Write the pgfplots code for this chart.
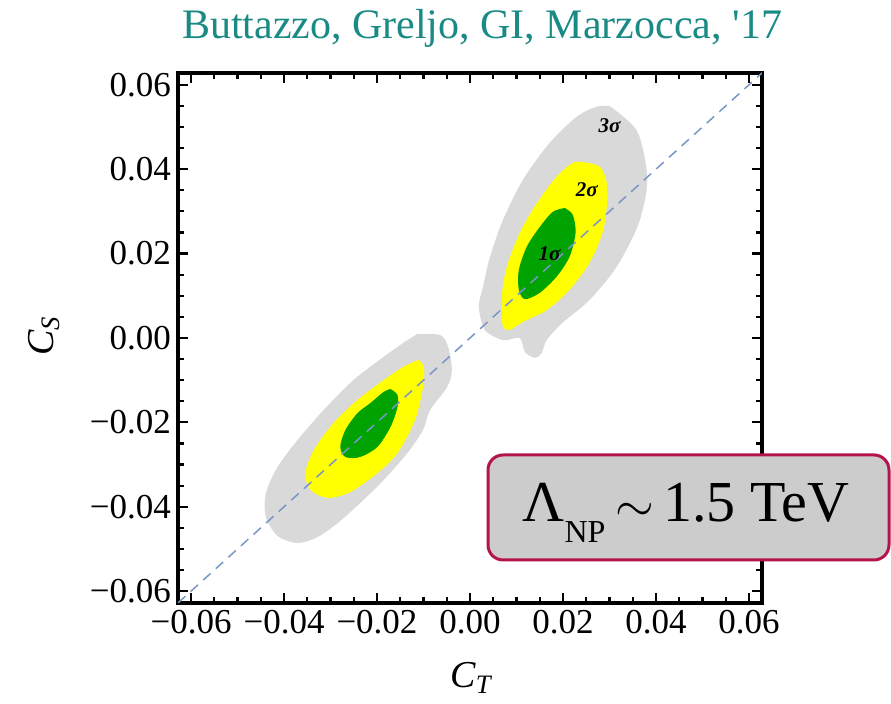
\documentclass[border=0pt]{standalone}
\usepackage{fontspec}
\setmainfont{Liberation Serif}
\newfontfamily\titlefont{Liberation Serif}
\usepackage{pgfplots}
\pgfplotsset{compat=1.18}
\definecolor{teal1}{RGB}{26,138,132}
\definecolor{c3}{RGB}{217,217,217}
\definecolor{c2}{RGB}{255,255,0}
\definecolor{c1}{RGB}{0,163,0}
\definecolor{dashc}{RGB}{120,150,200}
\definecolor{boxborder}{RGB}{180,20,75}
\definecolor{boxfill}{RGB}{204,204,204}
\begin{document}
\begin{tikzpicture}[x=1pt,y=1pt]
\begin{axis}[
  at={(89pt,50.5pt)}, anchor=south west,
  scale only axis, width=292pt, height=265pt,
  xmin=-0.0628, xmax=0.0628, ymin=-0.0628, ymax=0.0628,
  scaled ticks=false,
  xtick={-0.06,-0.04,-0.02,0,0.02,0.04,0.06},
  ytick={-0.06,-0.04,-0.02,0,0.02,0.04,0.06},
  xticklabels={−0.06,−0.04,−0.02,0.00,0.02,0.04,0.06},
  yticklabels={−0.06,−0.04,−0.02,0.00,0.02,0.04,0.06},
  minor tick num=3,
  major tick length=5pt, minor tick length=3pt,
  axis line style={line width=1.6pt},
  tick style={black, line width=1.1pt},
  tick label style={font=\fontsize{17.5}{20}\selectfont},
  xlabel={\textit{C}\textsubscript{\textit{T}}},
  ylabel={\textit{C}\textsubscript{\textit{S}}},
  label style={font=\fontsize{19}{22}\selectfont},
  xlabel style={at={(axis description cs:0.503,-0.1415)}, anchor=center},
  ylabel style={at={(axis description cs:-0.2295,0.504)}, anchor=center},
]
% 3 sigma, upper
\addplot[fill=c3, draw=none, smooth, tension=0.5] coordinates {
(0.0300,0.0550)(0.0358,0.0493)(0.0379,0.0406)(0.0379,0.0344)(0.0360,0.0263)
(0.0315,0.0168)(0.0257,0.0090)(0.0199,0.0036)(0.0165,-0.0005)(0.0154,-0.0036)
(0.0139,-0.0047)(0.0118,-0.0033)(0.0107,0.0000)(0.0071,-0.0005)(0.0032,0.0019)
(0.0019,0.0074)(0.0028,0.0121)(0.0043,0.0192)(0.0071,0.0280)(0.0114,0.0375)
(0.0171,0.0462)(0.0229,0.0524)(0.0272,0.0548)(0.0300,0.0550)} -- cycle;
% 3 sigma, lower
\addplot[fill=c3, draw=none, smooth, tension=0.5] coordinates {
(-0.0114,0.0009)(-0.0064,0.0007)(-0.0047,-0.0021)(-0.0039,-0.0076)(-0.0049,-0.0116)
(-0.0086,-0.0171)(-0.0101,-0.0218)(-0.0135,-0.0273)(-0.0186,-0.0337)(-0.0236,-0.0391)
(-0.0285,-0.0439)(-0.0328,-0.0472)(-0.0371,-0.0486)(-0.0414,-0.0469)(-0.0439,-0.0424)
(-0.0439,-0.0368)(-0.0414,-0.0306)(-0.0371,-0.0242)(-0.0315,-0.0171)(-0.0251,-0.0100)
(-0.0186,-0.0045)(-0.0144,-0.0012)(-0.0114,0.0009)} -- cycle;
% 2 sigma, upper
\addplot[fill=c2, draw=none, smooth, tension=0.5] coordinates {
(0.0242,0.0417)(0.0279,0.0406)(0.0294,0.0368)(0.0294,0.0311)(0.0285,0.0249)
(0.0257,0.0178)(0.0214,0.0114)(0.0165,0.0066)(0.0114,0.0038)(0.0086,0.0019)
(0.0071,0.0026)(0.0069,0.0059)(0.0069,0.0107)(0.0079,0.0168)(0.0107,0.0249)
(0.0144,0.0320)(0.0186,0.0382)(0.0221,0.0415)(0.0242,0.0417)} -- cycle;
% 2 sigma, lower
\addplot[fill=c2, draw=none, smooth, tension=0.5] coordinates {
(-0.0111,-0.0052)(-0.0099,-0.0069)(-0.0101,-0.0116)(-0.0118,-0.0194)(-0.0156,-0.0273)
(-0.0199,-0.0320)(-0.0257,-0.0365)(-0.0306,-0.0379)(-0.0343,-0.0360)(-0.0354,-0.0320)
(-0.0336,-0.0266)(-0.0294,-0.0202)(-0.0242,-0.0147)(-0.0186,-0.0100)(-0.0144,-0.0069)
(-0.0111,-0.0052)} -- cycle;
% 1 sigma, upper
\addplot[fill=c1, draw=none, smooth, tension=0.5] coordinates {
(0.0204,0.0308)(0.0221,0.0292)(0.0227,0.0249)(0.0214,0.0192)(0.0186,0.0145)
(0.0150,0.0107)(0.0118,0.0092)(0.0105,0.0114)(0.0105,0.0161)(0.0122,0.0216)
(0.0150,0.0263)(0.0178,0.0299)(0.0204,0.0308)} -- cycle;
% 1 sigma, lower
\addplot[fill=c1, draw=none, smooth, tension=0.5] coordinates {
(-0.0171,-0.0121)(-0.0156,-0.0135)(-0.0156,-0.0164)(-0.0171,-0.0211)(-0.0199,-0.0258)
(-0.0236,-0.0282)(-0.0268,-0.0282)(-0.0279,-0.0258)(-0.0268,-0.0218)(-0.0242,-0.0178)
(-0.0214,-0.0154)(-0.0186,-0.0128)(-0.0171,-0.0121)} -- cycle;
% diagonal
\addplot[dashc, line width=0.75pt, dash pattern=on 5pt off 3.5pt] coordinates {(-0.0628,-0.0628)(0.0628,0.0628)};
\node[font=\fontsize{10.5}{12}\selectfont\bfseries\itshape] at (axis cs:0.0300,0.0503) {3σ};
\node[font=\fontsize{10.5}{12}\selectfont\bfseries\itshape] at (axis cs:0.0251,0.0351) {2σ};
\node[font=\fontsize{10.5}{12}\selectfont\bfseries\itshape] at (axis cs:0.0171,0.0201) {1σ};
\end{axis}
\node[text=teal1, font=\titlefont\fontsize{21}{25}\selectfont] at (241pt,338pt) {Buttazzo, Greljo, GI, Marzocca, '17};
\draw[boxborder, line width=1.5pt, fill=boxfill, rounded corners=7.5pt] (244pt,72pt) rectangle (444.5pt,124.5pt);
\node[anchor=base, inner sep=0pt, font=\fontsize{29}{34}\selectfont] at (343pt,91pt) {Λ\raisebox{-10.5pt}{\fontsize{16}{17}\selectfont NP}\,$\sim$\,1.5 TeV};
\pgfresetboundingbox
\path (0pt,0pt) rectangle (445.5pt,352pt);
\end{tikzpicture}
\end{document}
